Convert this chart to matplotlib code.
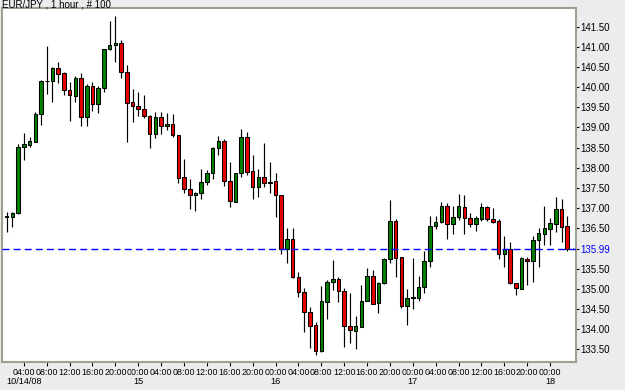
import matplotlib
matplotlib.use("Agg")
import matplotlib.pyplot as plt
import pandas as pd

plt.rcParams['font.family'] = ['Liberation Sans', 'DejaVu Sans']

title = "EUR/JPY , 1 hour , # 100"
start_time = "2008-10-14 01:00"
last_price = 135.99

opens = [136.79, 136.79, 136.87, 138.51, 138.57, 138.65, 139.33, 140.16, 140.16, 140.48,
         140.34, 139.93, 139.79, 140.22, 139.25, 140.02, 139.58, 139.99, 140.94, 141.05,
         141.09, 140.37, 139.62, 139.54, 139.46, 139.29, 138.83, 139.25, 139.04, 139.08,
         138.81, 137.76, 137.47, 137.32, 137.37, 137.64, 137.88, 138.48, 138.67, 137.68,
         137.16, 137.86, 138.77, 137.92, 137.51, 137.76, 137.63, 137.67, 137.32, 135.98,
         136.22, 135.28, 134.91, 134.43, 134.10, 133.45, 134.68, 135.16, 135.23, 134.95,
         134.08, 133.96, 134.06, 134.70, 135.31, 134.64, 135.13, 135.73, 136.68, 135.78,
         134.58, 134.78, 134.78, 135.03, 135.69, 136.55, 136.65, 137.06, 136.60, 136.79,
         137.03, 136.75, 136.60, 136.73, 137.02, 136.73, 136.69, 135.86, 135.98, 135.13,
         134.99, 135.74, 135.69, 136.21, 136.36, 136.48, 136.60, 136.98, 136.55, 135.99]
highs = [136.91, 136.91, 138.58, 138.85, 138.77, 139.39, 140.18, 141.02, 140.50, 140.62,
         140.38, 140.14, 140.28, 140.34, 140.08, 140.14, 140.03, 140.95, 141.64, 141.77,
         141.17, 140.55, 139.95, 139.89, 139.81, 139.31, 139.39, 139.39, 139.35, 139.33,
         138.82, 138.21, 137.72, 137.41, 137.97, 137.94, 138.51, 138.79, 138.71, 138.15,
         137.88, 138.96, 138.88, 138.32, 137.96, 138.62, 138.15, 137.88, 137.33, 136.50,
         136.51, 135.42, 135.01, 134.54, 134.18, 135.07, 135.21, 135.71, 135.30, 135.01,
         134.90, 134.33, 135.08, 135.52, 135.46, 135.17, 135.76, 137.20, 136.72, 135.79,
         134.98, 135.75, 135.32, 135.93, 136.80, 136.80, 137.16, 137.12, 137.06, 137.34,
         137.32, 136.87, 136.80, 137.12, 137.05, 136.99, 136.72, 136.31, 136.16, 135.15,
         135.78, 135.78, 136.31, 136.50, 137.05, 136.75, 137.27, 137.22, 136.81, 136.00]
lows = [136.41, 136.54, 136.85, 138.19, 138.51, 138.64, 139.06, 139.82, 139.62, 140.11,
        139.81, 139.17, 139.64, 139.04, 139.04, 139.42, 139.37, 139.87, 140.93, 140.62,
        140.23, 138.65, 139.13, 139.28, 139.23, 138.48, 138.73, 138.83, 138.94, 138.77,
        137.61, 137.37, 136.97, 136.93, 137.23, 137.57, 137.71, 138.32, 137.55, 137.03,
        137.15, 137.78, 137.82, 137.22, 137.27, 137.53, 137.38, 136.79, 135.86, 135.63,
        135.27, 134.79, 133.93, 133.52, 133.35, 133.43, 134.25, 134.97, 134.68, 133.54,
        133.64, 133.50, 134.05, 134.69, 134.62, 134.40, 135.12, 135.64, 135.30, 134.51,
        134.10, 134.49, 134.70, 134.88, 135.54, 136.47, 136.64, 136.23, 136.36, 136.70,
        136.36, 136.54, 136.44, 136.69, 136.69, 136.64, 135.74, 135.53, 135.12, 134.84,
        134.98, 135.09, 135.16, 135.54, 136.08, 136.08, 136.41, 136.16, 135.93, 135.98]
closes = [136.80, 136.88, 138.52, 138.58, 138.66, 139.33, 140.16, 140.15, 140.48, 140.33,
          139.93, 139.80, 140.22, 139.25, 140.03, 139.57, 139.99, 140.94, 141.05, 141.09,
          140.37, 139.61, 139.54, 139.45, 139.29, 138.84, 139.25, 139.04, 139.08, 138.81,
          137.75, 137.47, 137.32, 137.37, 137.64, 137.88, 138.48, 138.67, 137.68, 137.17,
          137.86, 138.77, 137.90, 137.51, 137.76, 137.63, 137.65, 137.32, 135.98, 136.22,
          135.28, 134.91, 134.43, 134.08, 133.45, 134.69, 135.16, 135.24, 134.95, 134.08,
          133.97, 134.07, 134.70, 135.31, 134.63, 135.15, 135.74, 136.68, 135.77, 134.58,
          134.77, 134.79, 135.03, 135.69, 136.55, 136.65, 137.06, 136.60, 136.79, 137.06,
          136.75, 136.60, 136.75, 137.02, 136.72, 136.66, 135.86, 135.98, 135.13, 135.01,
          135.75, 135.69, 136.21, 136.37, 136.50, 136.64, 136.98, 136.54, 135.99, 135.99]

y_ticks = [133.5, 134.0, 134.5, 135.0, 135.5, 135.99, 136.5, 137.0, 137.5,
           138.0, 138.5, 139.0, 139.5, 140.0, 140.5, 141.0, 141.5]

times = pd.date_range(start_time, periods=len(opens), freq="h")

W, H = 625, 390
ax_top, ax_bot = 8, 362
fig = plt.figure(figsize=(W / 100, H / 100), dpi=100, facecolor='#ececec')
ax = fig.add_axes([2 / W, 1 - ax_bot / H, (576 - 2) / W, (ax_bot - ax_top) / H])
ax.set_facecolor('white')

xs = list(range(len(opens)))
ax.vlines(xs, lows, highs, color='black', lw=0.85, zorder=2)
for x, o, h, l, c in zip(xs, opens, highs, lows, closes):
    if c > o:
        col = '#008000'
    elif c < o:
        col = '#e60000'
    else:
        col = 'black'
    bottom = min(o, c)
    height = max(abs(c - o), 0.004)
    ax.bar(x, height, bottom=bottom, width=0.62, color=col, edgecolor='black',
           linewidth=0.75, zorder=3)

ax.axhline(last_price, color='#0000ff', lw=1.0, linestyle=(0, (5, 3)), zorder=4)

ax.set_xlim(-0.82, 99.53)
ax.set_ylim(133.18, 141.964)

# y axis on the right
ax.yaxis.tick_right()
ax.set_yticks(y_ticks)
ax.set_yticklabels([f"{v:.2f}" for v in y_ticks])
ax.tick_params(axis='y', length=2.5, width=0.8, pad=0.8, labelsize=7, colors='black')
for tick, v in zip(ax.yaxis.get_major_ticks(), y_ticks):
    if abs(v - last_price) < 1e-6:
        tick.label2.set_color('#0000ff')
        tick.tick2line.set_color('#0000ff')

# x axis: time labels every 4 hours, day labels on a second row
xt, xl = [], []
date_pos, date_lab, date_ha = [], [], []
for i, t in enumerate(times):
    if t.hour % 4 == 0 and i <= 96:
        xt.append(i)
        xl.append(t.strftime("%H:%M"))
        if t.hour == 0:
            date_pos.append(i)
            date_lab.append(str(t.day))
            date_ha.append('center')
date_pos.insert(0, 0)
date_lab.insert(0, times[0].strftime("%m/%d/%y"))
date_ha.insert(0, 'left')

ax.set_xticks(xt)
ax.set_xticklabels(xl)
ax.tick_params(axis='x', length=3, width=0.8, pad=1.5, labelsize=6.4, colors='black')

date_y = -(382 - ax_bot) / (ax_bot - ax_top)
for p, lab, ha in zip(date_pos, date_lab, date_ha):
    ax.text(p, date_y, lab, transform=ax.get_xaxis_transform(), ha=ha, va='center',
            fontsize=6.6, clip_on=False)

for s in ax.spines.values():
    s.set_color('#a0a090')
    s.set_linewidth(1.5)

fig.text(2 / W, 1 - 7.5 / H, title, fontsize=7, ha='left', va='baseline')

fig.savefig("out.png", dpi=100, facecolor=fig.get_facecolor())
